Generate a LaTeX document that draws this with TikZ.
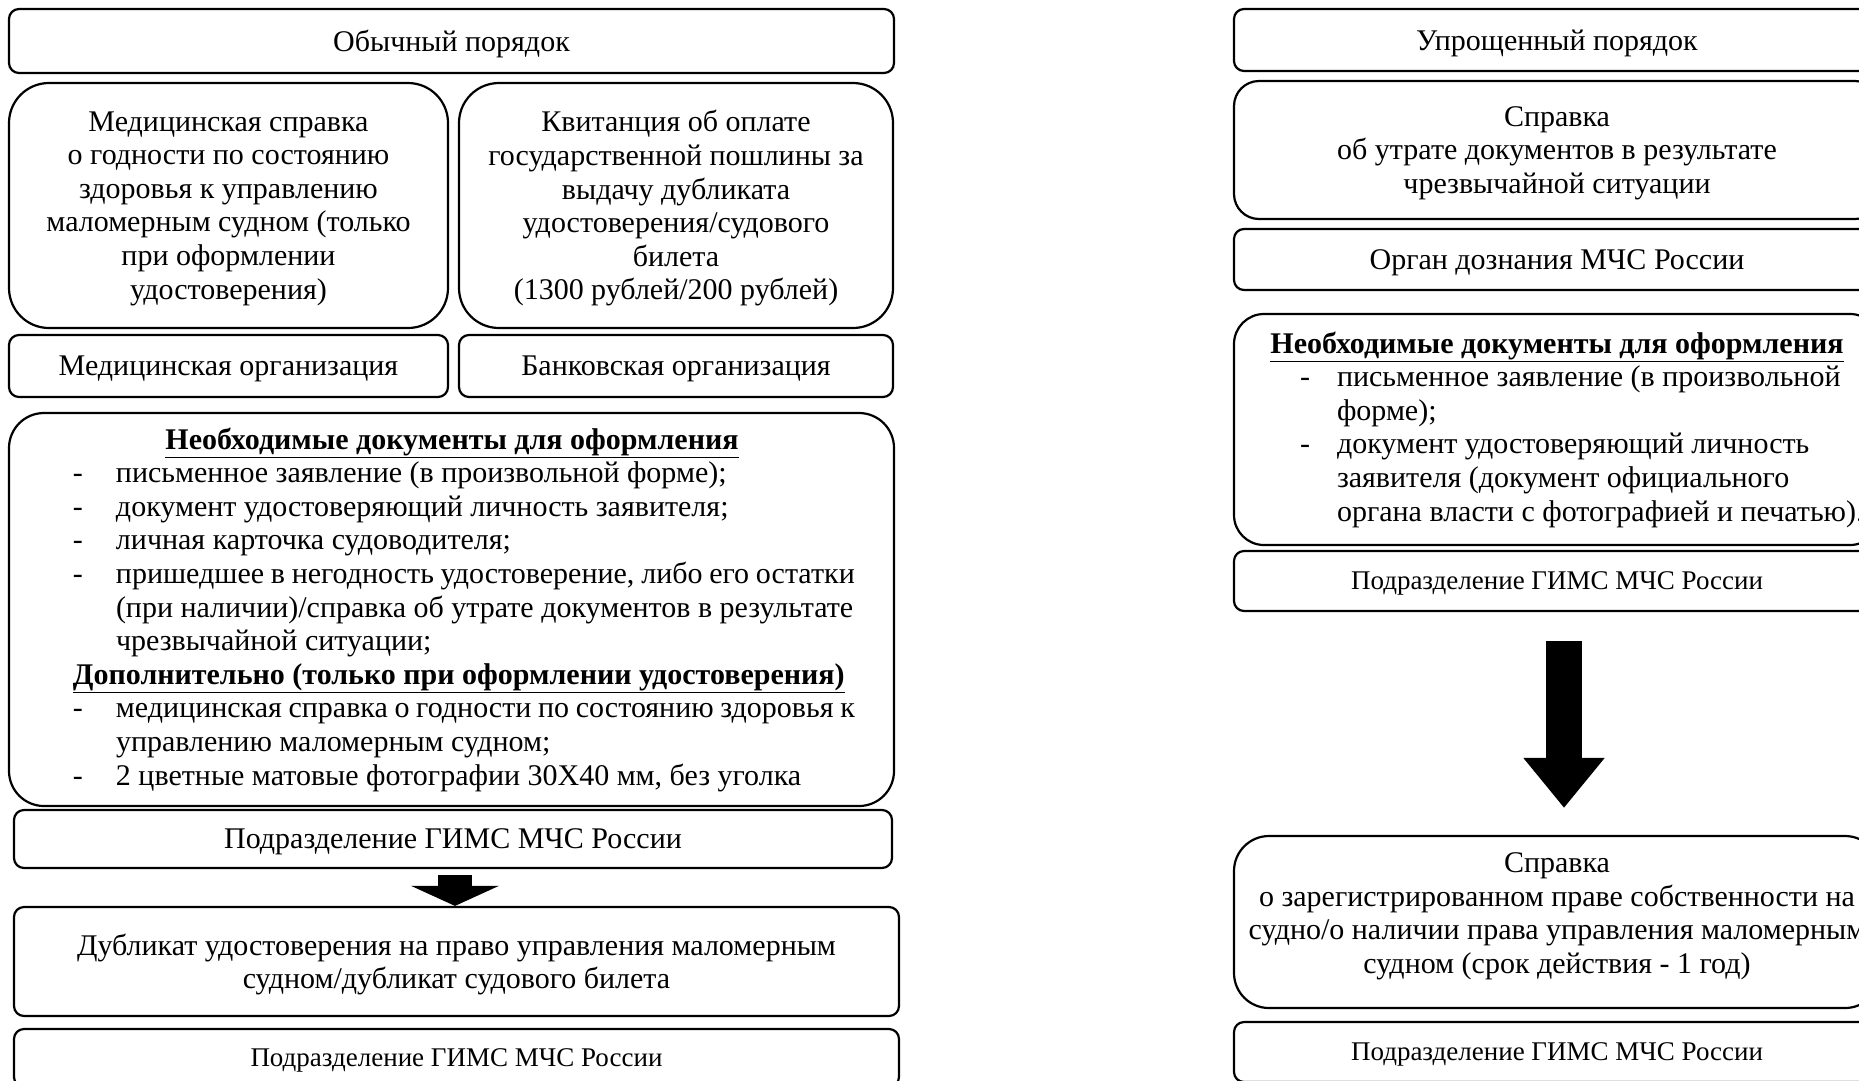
\documentclass[tikz,border=0pt]{standalone}
\usepackage{fontspec}
\setmainfont{Liberation Serif}
\usetikzlibrary{arrows.meta}
\newcommand{\ditem}[2]{\noindent\hangindent=#1\hangafter=1\relax\makebox[#1][l]{-}#2\par}
\begin{document}
\begin{tikzpicture}[x=1pt,y=-1pt,
  bx/.style={draw=black, line width=2.2pt, rounded corners=#1, inner sep=0pt,
             align=center, text=black, font=\fontsize{30}{33.6}\selectfont},
  bx/.default=10pt,
  tdn/.style={text depth=0.5pt},
  small/.style={font=\fontsize{27}{31}\selectfont},
  docs/.style={align=flush left},
  blockarrow/.style={draw=black, line width=#1}
]
\path[use as bounding box] (0,0) rectangle (1859,1080);
\clip (0,0) rectangle (1859,1080);
\fill[white] (0,0) rectangle (1859,1080);

% ---------------- left column ----------------
\node[bx, tdn, minimum width=885pt, minimum height=64pt] (obych) at (451.5,41) {Обычный порядок};

\node[bx=40pt, tdn, minimum width=439pt, minimum height=245pt] (med) at (228.5,205.5)
  {Медицинская справка\\о годности по состоянию\\здоровья к управлению\\маломерным судном (только\\при оформлении\\удостоверения)};
\node[bx=40pt, tdn, minimum width=434pt, minimum height=245pt] (kvit) at (676,205.5)
  {Квитанция об оплате\\государственной пошлины за\\выдачу дубликата\\удостоверения/судового\\билета\\(1300 рублей/200 рублей)};

\node[bx, tdn, minimum width=439pt, minimum height=62pt] (medorg) at (228.5,366) {Медицинская организация};
\node[bx, tdn, minimum width=434pt, minimum height=62pt] (bankorg) at (676,366) {Банковская организация};

\node[bx=35pt, docs, minimum width=885pt, minimum height=393pt, text width=820pt] (docsL) at (451.5,609.5)
  {\leftskip=31.5pt
   \noindent\makebox[758pt][c]{\bfseries\underline{Необходимые документы для оформления}}\par
   \ditem{43pt}{письменное заявление (в произвольной форме);}
   \ditem{43pt}{документ удостоверяющий личность заявителя;}
   \ditem{43pt}{личная карточка судоводителя;}
   \ditem{43pt}{пришедшее в негодность удостоверение, либо его остатки \break (при наличии)/справка об утрате документов в результате \break чрезвычайной ситуации;}
   \noindent{\bfseries\underline{Дополнительно (только при оформлении удостоверения)}}\par
   \ditem{43pt}{медицинская справка о годности по состоянию здоровья к \break управлению маломерным судном;}
   \ditem{43pt}{2 цветные матовые фотографии 30Х40 мм, без уголка}};

\node[bx, tdn, minimum width=878pt, minimum height=58pt] (gimsL1) at (453,839) {Подразделение ГИМС МЧС России};

\node[bx, tdn, minimum width=885pt, minimum height=109pt] (dup) at (456.5,961.5)
  {Дубликат удостоверения на право управления маломерным\\судном/дубликат судового билета};

\node[bx, small, tdn, minimum width=885pt, minimum height=58pt] (gimsL2) at (456.5,1058) {Подразделение ГИМС МЧС России};

\draw[blockarrow=34pt, -{Triangle[length=20pt,width=87pt]}, shorten <=6pt]
  ([xshift=2pt]gimsL1.south) -- ([xshift=2pt]gimsL1.south |- dup.north);

% ---------------- right column ----------------
\node[bx, tdn, minimum width=646pt, minimum height=62pt] (uproshch) at (1557,40) {Упрощенный порядок};

\node[bx=25pt, tdn, minimum width=646pt, minimum height=138pt] (sprav1) at (1557,150)
  {Справка\\об утрате документов в результате\\чрезвычайной ситуации};

\node[bx, tdn, minimum width=646pt, minimum height=61pt] (organ) at (1557,259.5) {Орган дознания МЧС России};

\node[bx=30pt, docs, minimum width=646pt, minimum height=231pt, text width=640pt] (docsR) at (1557,429.5)
  {\leftskip=63pt
   \noindent\makebox[514pt][c]{\bfseries\underline{Необходимые документы для оформления}}\par
   \ditem{37pt}{письменное заявление (в произвольной \break форме);}
   \ditem{37pt}{документ удостоверяющий личность \break заявителя (документ официального \break органа власти с фотографией и печатью).}};

\node[bx, small, tdn, minimum width=646pt, minimum height=60pt] (gimsR1) at (1557,581) {Подразделение ГИМС МЧС России};

\node[bx=35pt, minimum width=646pt, minimum height=172pt, text depth=18pt] (sprav2) at (1557,922)
  {Справка\\о зарегистрированном праве собственности на\\судно/о наличии права управления маломерным\\судном (срок действия - 1 год)};

\node[bx, small, tdn, minimum width=646pt, minimum height=60pt] (gimsR2) at (1557,1052) {Подразделение ГИМС МЧС России};

\draw[blockarrow=36pt, -{Triangle[length=50pt,width=78pt]}, shorten <=29pt, shorten >=27pt]
  ([xshift=7pt]gimsR1.south) -- ([xshift=7pt]sprav2.north);
\end{tikzpicture}
\end{document}
